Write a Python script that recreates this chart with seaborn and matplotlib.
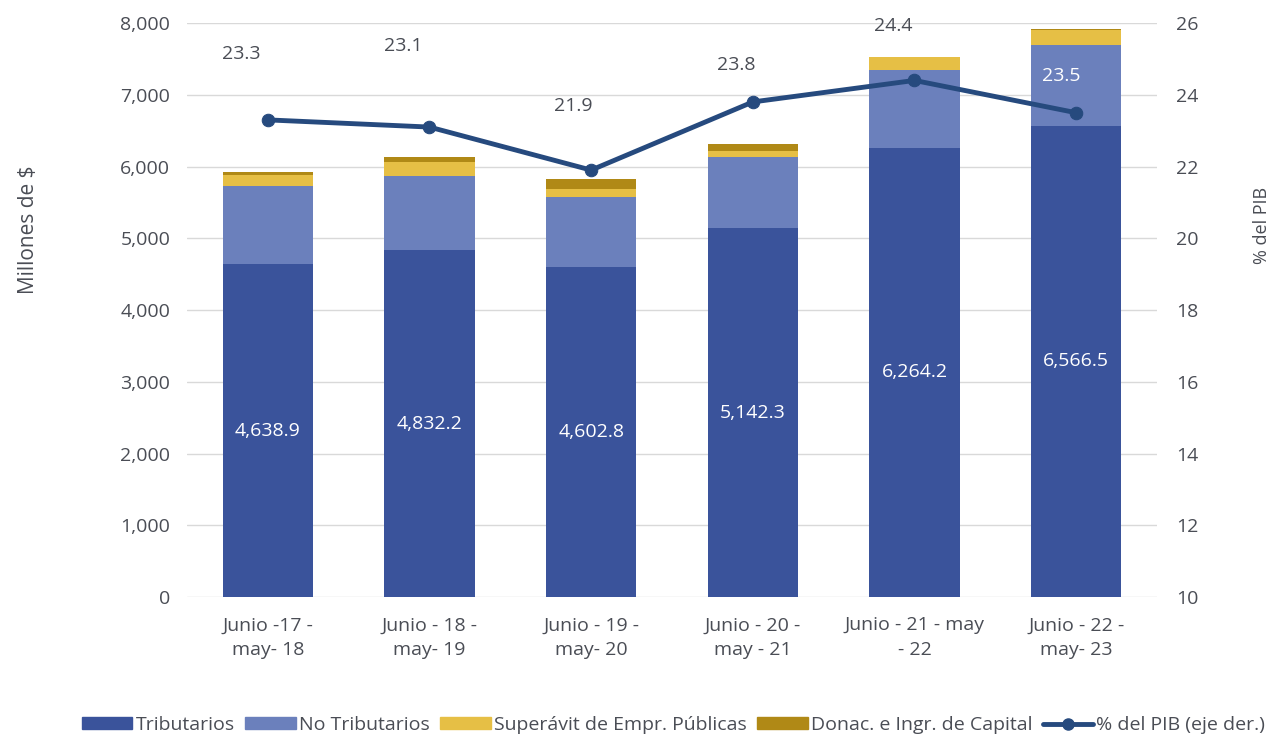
import numpy as np
import pandas as pd
import seaborn as sns
import matplotlib.pyplot as plt
from matplotlib.patches import Patch
from matplotlib.lines import Line2D

# data (millones de $)
periodos = ["Junio -17 -\nmay- 18", "Junio - 18 -\nmay- 19", "Junio - 19 -\nmay- 20",
            "Junio - 20 -\nmay - 21", "Junio - 21 - may\n- 22", "Junio - 22 -\nmay- 23"]
tributarios = [4638.9, 4832.2, 4602.8, 5142.3, 6264.2, 6566.5]
no_tributarios = [1089, 1036, 976, 986, 1081, 1127]
superavit = [154, 199, 103, 87, 177, 209]
donaciones = [41, 61, 144, 99, 10, 14]
pct_pib = [23.3, 23.1, 21.9, 23.8, 24.4, 23.5]
# label offsets for the % values (pixels), as placed in the original
lbl_dx = [-27, -26, -18, -17, -21, -15]
lbl_dy = [66, 81, 64, 37, 54, 37]

c_trib = "#3A539B"
c_notrib = "#6B80BC"
c_sup = "#E6BF45"
c_don = "#B08916"
c_line = "#264A7E"
gris = "#4A4D55"

sns.set_theme(style="white")
plt.rcParams['font.family'] = ['Open Sans', 'DejaVu Sans']

df = pd.DataFrame({"periodo": periodos, "trib": tributarios, "notrib": no_tributarios,
                   "sup": superavit, "don": donaciones})
df["c1"] = df["trib"]
df["c2"] = df["c1"] + df["notrib"]
df["c3"] = df["c2"] + df["sup"]
df["c4"] = df["c3"] + df["don"]

fig = plt.figure(figsize=(12.78, 7.43), dpi=100)
ax = fig.add_axes([0.1463, 0.1965, 0.759, 0.7725])

# stacked bars: draw cumulative totals back to front
for col, colr in [("c4", c_don), ("c3", c_sup), ("c2", c_notrib), ("c1", c_trib)]:
    sns.barplot(data=df, x="periodo", y=col, color=colr, width=0.56, ax=ax,
                saturation=1, edgecolor="none", linewidth=0)

ax.bar_label(ax.containers[-1], labels=[f"{v:,.1f}" for v in tributarios],
             label_type="center", color="white", fontsize=14)

ax.set_ylim(0, 8000)
ax.set_xlim(-0.5, 5.5)
ax.set_yticks(range(0, 8001, 1000))
ax.set_yticklabels([f"{v:,}" for v in range(0, 8001, 1000)])
ax.yaxis.grid(True, color="#D9D9D9", linewidth=1)
ax.set_axisbelow(True)
ax.set_xlabel("")
ax.set_ylabel("Millones de $", color=gris, fontsize=15)
ax.yaxis.set_label_coords(-0.153, 0.639)
ax.tick_params(axis="both", colors=gris, labelsize=14, length=0)
ax.tick_params(axis="y", pad=12)
ax.tick_params(axis="x", pad=14)
for t in ax.get_xticklabels():
    t.set_linespacing(1.45)
for s in ax.spines.values():
    s.set_visible(False)

ax2 = ax.twinx()
sns.lineplot(x=np.arange(len(pct_pib)), y=pct_pib, ax=ax2, color=c_line, linewidth=3.5,
             marker="o", markersize=9, markeredgecolor=c_line)
ax2.set_ylim(10, 26)
ax2.set_yticks(range(10, 27, 2))
ax2.set_ylabel("% del PIB", color=gris, fontsize=13)
ax2.yaxis.set_label_coords(1.099, 0.648)
ax2.tick_params(axis="y", colors=gris, labelsize=14, length=0, pad=14)
for s in ax2.spines.values():
    s.set_visible(False)

for i, v in enumerate(pct_pib):
    tc = "white" if i == 5 else gris
    ax2.annotate(f"{v:.1f}", (i, v), xytext=(lbl_dx[i] * 0.72, lbl_dy[i] * 0.72),
                 textcoords="offset points", ha="center", va="center",
                 color=tc, fontsize=14)

handles = [Patch(color=c_trib), Patch(color=c_notrib), Patch(color=c_sup), Patch(color=c_don),
           Line2D([], [], color=c_line, linewidth=3.5, marker="o", markersize=8)]
labels = ["Tributarios", "No Tributarios", "Superávit de Empr. Públicas",
          "Donac. e Ingr. de Capital", "% del PIB (eje der.)"]
fig.legend(handles, labels, loc="center", bbox_to_anchor=(0.527, 0.024), ncol=5,
           frameon=False, fontsize=14, handlelength=2.6, handleheight=0.6,
           handletextpad=0.15, columnspacing=0.55, labelcolor=gris)

fig.savefig("out.png", dpi=100)
